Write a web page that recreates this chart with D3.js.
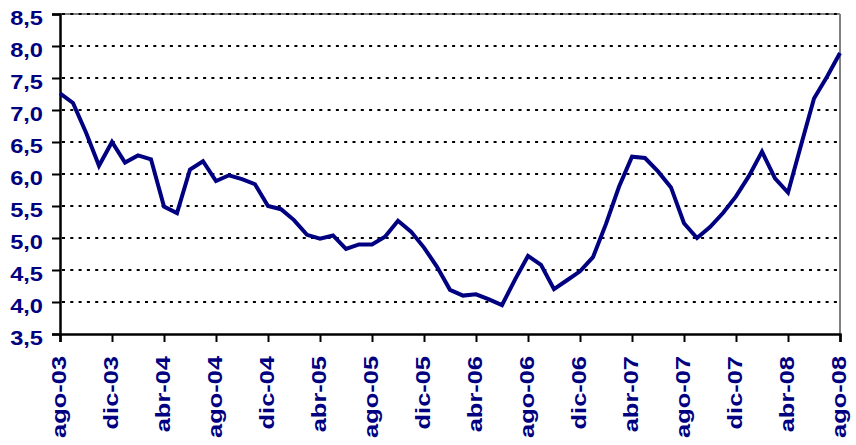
<!DOCTYPE html>
<html>
<head>
<meta charset="utf-8">
<script src="https://cdn.jsdelivr.net/npm/d3@7"></script>
<style>
  body { margin: 0; background: #fff; }
  svg { display: block; }
  .lbl { font-family: "Liberation Sans", Arial, sans-serif; font-weight: bold; font-size: 20px; fill: #000080; }
  .xlbl { font-size: 21px; }
</style>
</head>
<body>
<svg id="chart" width="856" height="445"></svg>
<script>
// monthly values, ago-03 .. ago-08
const values = [
  7.26, 7.11, 6.65, 6.13, 6.50, 6.18, 6.29, 6.23, 5.49, 5.39,
  6.07, 6.20, 5.89, 5.98, 5.92, 5.84, 5.50, 5.45, 5.28, 5.05,
  4.99, 5.04, 4.83, 4.90, 4.90, 5.02, 5.27, 5.10, 4.85, 4.55,
  4.19, 4.10, 4.12, 4.04, 3.95, 4.35, 4.72, 4.58, 4.20, 4.34,
  4.48, 4.70, 5.22, 5.80, 6.27, 6.25, 6.04, 5.79, 5.23, 5.00,
  5.17, 5.39, 5.65, 5.97, 6.35, 5.93, 5.71, 6.45, 7.18, 7.52,
  7.89
];
const xTickLabels = ['ago-03', 'dic-03', 'abr-04', 'ago-04', 'dic-04', 'abr-05', 'ago-05', 'dic-05',
  'abr-06', 'ago-06', 'dic-06', 'abr-07', 'ago-07', 'dic-07', 'abr-08', 'ago-08'];
const yTicks = [3.5, 4.0, 4.5, 5.0, 5.5, 6.0, 6.5, 7.0, 7.5, 8.0, 8.5];

function drawChart() {
  const svg = d3.select('#chart');
  const margin = {top: 14, right: 16, bottom: 111, left: 60};
  const width = 856, height = 445;

  const x = d3.scaleLinear()
    .domain([0, values.length - 1])
    .range([margin.left, width - margin.right]);
  const y = d3.scaleLinear()
    .domain([3.5, 8.5])
    .range([height - margin.bottom, margin.top]);

  // glyphs in the original are wider than Arial, so stretch along the text
  const stretch = k => sel => sel.each(function() {
    const w = this.getComputedTextLength();
    d3.select(this).attr('textLength', w * k).attr('lengthAdjust', 'spacingAndGlyphs');
  });

  // top and right frame
  svg.append('line')
    .attr('x1', x(0)).attr('x2', x(values.length - 1))
    .attr('y1', y(8.5)).attr('y2', y(8.5))
    .attr('stroke', '#808080').attr('stroke-width', 2);
  svg.append('line')
    .attr('x1', x(values.length - 1)).attr('x2', x(values.length - 1))
    .attr('y1', y(8.5)).attr('y2', y(3.5))
    .attr('stroke', '#808080').attr('stroke-width', 2);

  // dotted grid
  svg.append('g')
    .selectAll('line')
    .data(yTicks.filter(d => d > 3.5))
    .join('line')
      .attr('x1', x(0) + 2).attr('x2', x(values.length - 1))
      .attr('y1', d => y(d)).attr('y2', d => y(d))
      .attr('stroke', '#000').attr('stroke-width', 2)
      .attr('stroke-dasharray', '3,5.3');

  // y axis
  const yAxis = svg.append('g')
    .attr('transform', `translate(${margin.left},0)`)
    .call(d3.axisLeft(y).tickValues(yTicks).tickSize(8).tickPadding(9)
      .tickFormat(d => d3.format('.1f')(d).replace('.', ',')));
  yAxis.attr('font-size', null).attr('font-family', null);
  yAxis.select('.domain').attr('stroke', '#000').attr('stroke-width', 2.5);
  yAxis.selectAll('line').attr('stroke', '#000').attr('stroke-width', 2);
  yAxis.selectAll('text')
    .attr('class', 'lbl')
    .attr('fill', null)
    .attr('dy', '0.5em')
    .call(stretch(1.18));

  // x axis
  const xAxis = svg.append('g')
    .attr('transform', `translate(0,${height - margin.bottom})`)
    .call(d3.axisBottom(x)
      .tickValues(d3.range(0, values.length, 4))
      .tickSize(8)
      .tickFormat((d, i) => xTickLabels[i]));
  xAxis.attr('font-size', null).attr('font-family', null);
  xAxis.select('.domain').attr('stroke', '#000').attr('stroke-width', 2.5);
  xAxis.selectAll('line').attr('stroke', '#000').attr('stroke-width', 2);
  xAxis.selectAll('text')
    .attr('class', 'lbl xlbl')
    .attr('fill', null)
    .attr('text-anchor', 'end')
    .attr('transform', 'rotate(-90)')
    .attr('x', -22)
    .attr('y', 0)
    .attr('dy', '0.27em')
    .call(stretch(1.21));

  const line = d3.line()
    .x((d, i) => x(i))
    .y(d => y(d));

  svg.append('path')
    .datum(values)
    .attr('fill', 'none')
    .attr('stroke', '#000080')
    .attr('stroke-width', 4)
    .attr('stroke-linejoin', 'miter')
    .attr('d', line);
}

drawChart();
</script>
</body>
</html>
